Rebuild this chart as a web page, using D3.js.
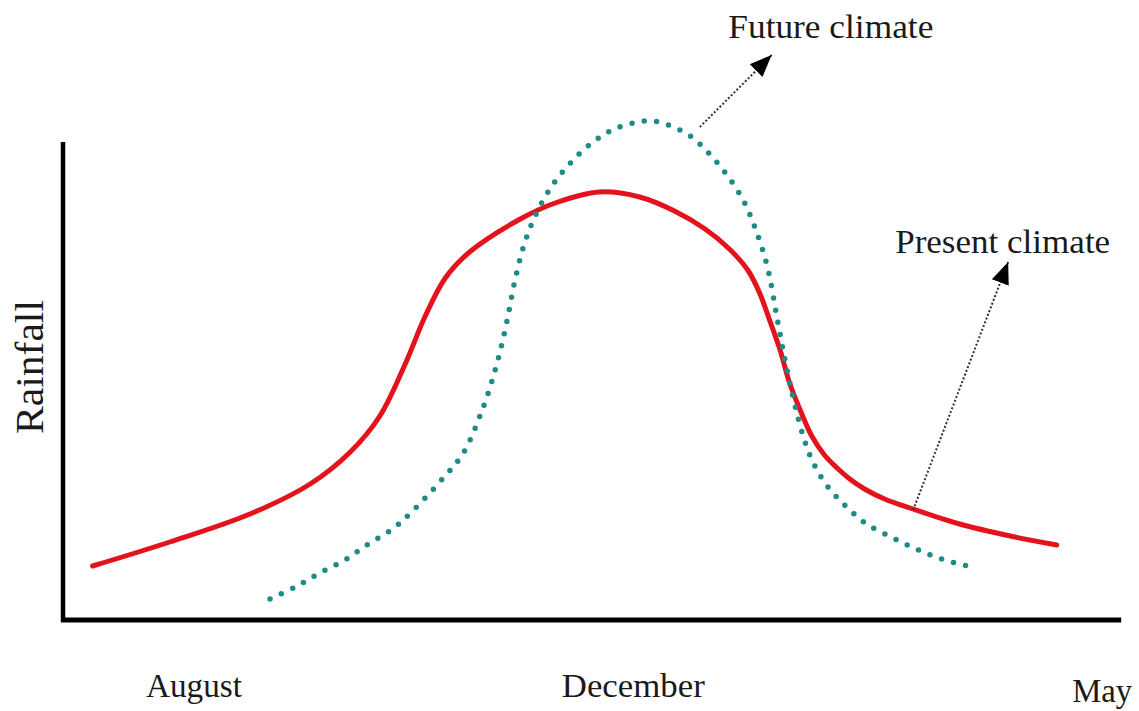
<!DOCTYPE html>
<html>
<head>
<meta charset="utf-8">
<script src="https://cdn.jsdelivr.net/npm/d3@7"></script>
<style>
  html, body { margin: 0; padding: 0; background: #fff; }
  svg { display: block; }
  text { font-family: "Liberation Serif", "Times New Roman", serif; fill: #1a1a1a; }
</style>
</head>
<body>
<svg id="chart" width="1139" height="711"></svg>
<script>
// ---- Data (abstract units: x = season progress 0..100, y = rainfall 0..100) ----
const presentX = [2.9, 10.2, 17.8, 23.5, 27.3, 30.1, 32.5, 34.4, 36.3, 38.6, 43.4, 46.7, 50.9, 54.7, 58.0, 60.9, 63.3, 65.0, 66.1, 67.0, 68.0, 68.9, 69.9, 71.0, 72.2, 73.4, 74.6, 76.0, 77.9, 80.3, 85.0, 89.8, 94.2];
const presentY = [11.0, 15.8, 21.4, 27.4, 33.8, 41.0, 51.4, 61.0, 68.6, 73.8, 80.4, 83.6, 85.8, 84.8, 82.0, 78.4, 74.2, 70.0, 65.4, 60.2, 54.2, 47.6, 42.2, 37.0, 33.2, 30.6, 28.4, 26.4, 24.4, 22.6, 19.4, 17.0, 15.2];

const futureX = [19.7, 22.1, 24.4, 26.8, 29.0, 31.3, 33.2, 36.1, 38.0, 39.9, 41.2, 42.1, 42.9, 43.9, 44.9, 46.2, 47.8, 49.7, 51.9, 54.5, 55.7, 56.9, 59.5, 61.4, 63.1, 64.5, 65.6, 66.8, 67.8, 68.8, 70.1, 71.1, 72.4, 74.3, 76.2, 78.7, 81.1, 83.6, 86.2];
const futureY = [4.4, 6.8, 9.6, 12.2, 15.4, 18.4, 22.0, 28.6, 33.6, 42.8, 51.6, 59.6, 68.2, 76.2, 81.4, 86.4, 90.8, 94.8, 98.0, 99.8, 100.0, 99.6, 97.0, 93.2, 88.8, 84.2, 78.8, 70.8, 59.6, 48.8, 37.6, 31.8, 27.2, 22.8, 19.4, 16.6, 14.2, 12.2, 10.8];

const tickLabels = ["August", "December", "May"];
const tickPositions = [12.5, 54.1, 98.5];

const yAxisLabel = "Rainfall";

// annotations
const annotLabels = ["Future climate", "Present climate"];
const annotTextX = [63.1, 78.9];
const annotTextY = [116.6, 73.6];
const annotStartX = [60.4, 80.6];
const annotStartY = [98.8, 22.2];
const annotTipX = [67.2, 89.6];
const annotTipY = [113.2, 71.8];
const annotTextWidth = [205, 215];

// ---- Drawing ----
const svg = d3.select("#chart");
const x = d3.scaleLinear().domain([0, 100]).range([62, 1118]);
const y = d3.scaleLinear().domain([0, 100]).range([621, 121]);

// axes
svg.append("line")
  .attr("x1", x(0) + 1).attr("x2", x(0) + 1)
  .attr("y1", y(95.8)).attr("y2", y(0) + 1)
  .attr("stroke", "#000").attr("stroke-width", 4.5);
svg.append("line")
  .attr("x1", x(0) - 1).attr("x2", x(100.3))
  .attr("y1", y(0) - 1).attr("y2", y(0) - 1)
  .attr("stroke", "#000").attr("stroke-width", 5);

// tick labels
const tickWidths = [96, 143, 60];
svg.selectAll(".tick-label").data(tickLabels).enter().append("text")
  .attr("class", "tick-label")
  .attr("x", (d, i) => x(tickPositions[i]))
  .attr("y", (d, i) => i === 2 ? 702 : 697)
  .attr("text-anchor", "middle")
  .attr("font-size", 33)
  .attr("textLength", (d, i) => tickWidths[i])
  .attr("lengthAdjust", "spacingAndGlyphs")
  .text(d => d);

// y label
svg.append("text")
  .attr("transform", "translate(43,367) rotate(-90)")
  .attr("text-anchor", "middle")
  .attr("font-size", 40)
  .attr("textLength", 134)
  .attr("lengthAdjust", "spacingAndGlyphs")
  .text(yAxisLabel);

const line = d3.line()
  .x(d => x(d[0])).y(d => y(d[1]))
  .curve(d3.curveCatmullRom.alpha(0.5));

const presentData = presentX.map((v, i) => [v, presentY[i]]);
const futureData = futureX.map((v, i) => [v, futureY[i]]);

svg.append("path")
  .datum(presentData)
  .attr("d", line)
  .attr("fill", "none")
  .attr("stroke", "#e3131b")
  .attr("stroke-width", 5)
  .attr("stroke-linecap", "round")
  .attr("stroke-linejoin", "round");

svg.append("path")
  .datum(futureData)
  .attr("d", line)
  .attr("fill", "none")
  .attr("stroke", "#1e8c84")
  .attr("stroke-width", 5.5)
  .attr("stroke-dasharray", "0 12.4")
  .attr("stroke-linecap", "round");

// arrow marker
const defs = svg.append("defs");
defs.append("marker")
  .attr("id", "arrowhead")
  .attr("markerUnits", "userSpaceOnUse")
  .attr("markerWidth", 24).attr("markerHeight", 20)
  .attr("viewBox", "0 0 24 20")
  .attr("refX", 22).attr("refY", 10)
  .attr("orient", "auto")
  .append("path")
  .attr("d", "M0,1 L22,10 L0,19 Z")
  .attr("fill", "#000");

annotLabels.forEach((lab, i) => {
  svg.append("line")
    .attr("x1", x(annotStartX[i])).attr("y1", y(annotStartY[i]))
    .attr("x2", x(annotTipX[i])).attr("y2", y(annotTipY[i]))
    .attr("stroke", "#333")
    .attr("stroke-width", 2)
    .attr("stroke-dasharray", "2 2")
    .attr("marker-end", "url(#arrowhead)");
  svg.append("text")
    .attr("x", x(annotTextX[i])).attr("y", y(annotTextY[i]))
    .attr("font-size", 33)
    .attr("textLength", annotTextWidth[i])
    .attr("lengthAdjust", "spacingAndGlyphs")
    .text(lab);
});
</script>
</body>
</html>
